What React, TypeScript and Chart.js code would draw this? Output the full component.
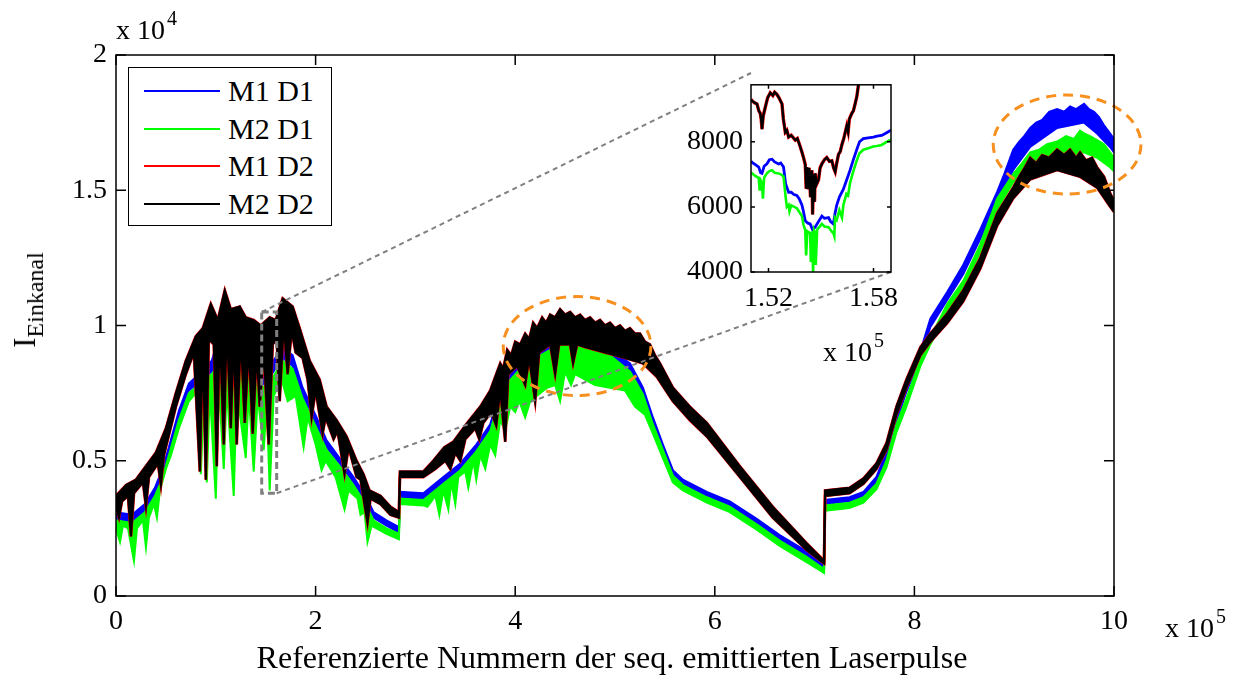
import React, { useEffect, useRef } from 'react';
import { Chart, registerables } from 'chart.js';

Chart.register(...registerables);

const FONT = "'Liberation Serif', 'Times New Roman', Times, serif";

type P = [number, number];

// x in units of 1e5 pulses, y in units of 1e4
const xTicks = [0, 2, 4, 6, 8, 10];
const yTicks = [0, 0.5, 1, 1.5, 2];

const seriesNames = ['M1 D1', 'M2 D1', 'M1 D2', 'M2 D2'];
const seriesColors = ['#0000FF', '#00FF00', '#FF0000', '#000000'];

// M2 D2 (black) upper and lower envelope of the noisy trace
const m2d2Hi: P[] = [
  [0, 0.37], [0.1, 0.41], [0.2, 0.43], [0.3, 0.48], [0.4, 0.53], [0.5, 0.62], [0.6, 0.75], [0.7, 0.87],
  [0.8, 0.96], [0.87, 0.99], [0.95, 1.08], [1.02, 1.02], [1.09, 1.13], [1.15, 1.06], [1.24, 1.07], [1.3, 1.03],
  [1.38, 1.02], [1.45, 1.0], [1.54, 1.03], [1.6, 1.02], [1.67, 1.1], [1.77, 1.07], [1.84, 0.99], [1.94, 0.87],
  [2.04, 0.8], [2.11, 0.7], [2.21, 0.65], [2.31, 0.59], [2.41, 0.5], [2.48, 0.45], [2.54, 0.39], [2.65, 0.37],
  [2.75, 0.33], [2.835, 0.31], [2.845, 0.46], [3.08, 0.46], [3.18, 0.5], [3.29, 0.55], [3.38, 0.57], [3.52, 0.64],
  [3.65, 0.7], [3.75, 0.76], [3.85, 0.86], [3.88, 0.84], [3.92, 0.91], [3.96, 0.89], [4.0, 0.94], [4.05, 0.93],
  [4.1, 0.97], [4.14, 0.95], [4.18, 1.01], [4.22, 0.99], [4.27, 1.03], [4.31, 1.01], [4.35, 1.04], [4.4, 1.03],
  [4.45, 1.06], [4.5, 1.04], [4.55, 1.05], [4.6, 1.03], [4.65, 1.04], [4.7, 1.02], [4.75, 1.03], [4.8, 1.01],
  [4.85, 1.02], [4.9, 1.0], [4.95, 1.01], [5.0, 0.99], [5.05, 1.0], [5.1, 0.98], [5.15, 0.99], [5.2, 0.97],
  [5.25, 0.97], [5.3, 0.94], [5.35, 0.93], [5.4, 0.89], [5.45, 0.86], [5.58, 0.77], [5.75, 0.7], [5.92, 0.64],
  [6.25, 0.48], [6.58, 0.33], [6.92, 0.195], [7.095, 0.13], [7.105, 0.39], [7.35, 0.4], [7.49, 0.435], [7.62, 0.49],
  [7.72, 0.565], [7.82, 0.7], [7.92, 0.8], [8.06, 0.92], [8.16, 0.97], [8.33, 1.045], [8.49, 1.13], [8.66, 1.25],
  [8.83, 1.415], [8.99, 1.51], [9.05, 1.55], [9.1, 1.58], [9.16, 1.62], [9.22, 1.6], [9.28, 1.63], [9.35, 1.62],
  [9.43, 1.65], [9.5, 1.63], [9.56, 1.65], [9.62, 1.62], [9.66, 1.64], [9.72, 1.61], [9.78, 1.62], [9.83, 1.585],
  [9.9, 1.55], [9.96, 1.49], [10, 1.46],
];
const m2d2Lo: P[] = [
  [0, 0.33], [0.03, 0.29], [0.06, 0.35], [0.12, 0.37], [0.15, 0.22], [0.18, 0.38], [0.27, 0.42], [0.3, 0.33],
  [0.33, 0.44], [0.42, 0.49], [0.45, 0.41], [0.48, 0.52], [0.6, 0.7], [0.7, 0.82], [0.78, 0.9], [0.84, 0.46],
  [0.87, 0.92], [0.9, 0.43], [0.93, 0.95], [0.98, 0.93], [1.01, 0.48], [1.04, 0.98], [1.08, 0.56], [1.11, 1.0],
  [1.15, 0.62], [1.18, 0.95], [1.21, 0.56], [1.25, 0.96], [1.29, 0.64], [1.33, 0.92], [1.37, 0.6], [1.41, 0.9],
  [1.44, 0.7], [1.48, 0.9], [1.53, 0.56], [1.57, 0.93], [1.61, 0.95], [1.64, 0.72], [1.68, 1.0], [1.72, 0.82],
  [1.76, 0.98], [1.8, 0.9], [1.87, 0.88], [1.92, 0.8], [1.96, 0.66], [2.0, 0.76], [2.07, 0.6], [2.1, 0.66],
  [2.18, 0.58], [2.22, 0.61], [2.29, 0.45], [2.33, 0.55], [2.41, 0.44], [2.45, 0.43], [2.52, 0.27], [2.55, 0.36],
  [2.65, 0.34], [2.75, 0.3], [2.835, 0.29], [2.845, 0.44], [3.08, 0.44], [3.2, 0.47], [3.3, 0.5], [3.35, 0.47],
  [3.4, 0.53], [3.45, 0.5], [3.5, 0.58], [3.6, 0.62], [3.64, 0.58], [3.68, 0.64], [3.76, 0.68], [3.81, 0.63],
  [3.85, 0.76], [3.9, 0.57], [3.93, 0.82], [4.02, 0.85], [4.1, 0.78], [4.14, 0.88], [4.2, 0.72], [4.24, 0.9],
  [4.35, 0.93], [4.4, 0.82], [4.44, 0.93], [4.55, 0.93], [4.58, 0.86], [4.62, 0.93], [4.7, 0.92], [4.9, 0.9],
  [5.1, 0.88], [5.28, 0.86], [5.42, 0.81], [5.58, 0.72], [5.75, 0.65], [5.92, 0.59], [6.25, 0.44], [6.58, 0.29],
  [6.92, 0.17], [7.095, 0.12], [7.105, 0.37], [7.35, 0.38], [7.49, 0.415], [7.62, 0.47], [7.72, 0.54], [7.82, 0.67],
  [7.92, 0.77], [8.06, 0.89], [8.16, 0.94], [8.33, 1.01], [8.49, 1.09], [8.66, 1.21], [8.83, 1.37], [8.99, 1.47],
  [9.16, 1.54], [9.43, 1.575], [9.66, 1.55], [9.83, 1.51], [9.96, 1.44], [10, 1.42],
];

// M1 D2 (red) lies almost exactly under M2 D2
const m1d2Hi: P[] = m2d2Hi;
const m1d2Lo: P[] = m2d2Lo;

// M1 D1 (blue)
const m1d1Hi: P[] = [
  [0, 0.31], [0.16, 0.3], [0.29, 0.34], [0.39, 0.4], [0.46, 0.465], [0.53, 0.55], [0.63, 0.685], [0.73, 0.785],
  [0.83, 0.82], [0.96, 0.87], [1.03, 0.96], [1.1, 0.93], [1.23, 0.9], [1.35, 0.87], [1.49, 0.82], [1.56, 0.86],
  [1.67, 0.92], [1.77, 0.89], [1.87, 0.77], [2.01, 0.66], [2.11, 0.575], [2.24, 0.51], [2.38, 0.44], [2.51, 0.365],
  [2.58, 0.31], [2.71, 0.28], [2.835, 0.255], [2.845, 0.385], [3.08, 0.38], [3.28, 0.44], [3.45, 0.49], [3.61, 0.56],
  [3.75, 0.635], [3.88, 0.8], [4.05, 0.87], [4.21, 0.91], [4.42, 0.955], [4.55, 0.97], [4.75, 0.94], [4.95, 0.915],
  [5.15, 0.86], [5.28, 0.77], [5.38, 0.66], [5.48, 0.56], [5.58, 0.465], [5.68, 0.43], [5.92, 0.385], [6.15, 0.35],
  [6.42, 0.285], [6.65, 0.225], [6.92, 0.165], [7.095, 0.12], [7.105, 0.355], [7.35, 0.365], [7.49, 0.385], [7.62, 0.44],
  [7.72, 0.535], [7.82, 0.665], [7.92, 0.775], [8.06, 0.905], [8.16, 1.025], [8.33, 1.125], [8.49, 1.225], [8.66, 1.355],
  [8.83, 1.495], [8.9, 1.56], [8.95, 1.61], [8.99, 1.65], [9.05, 1.68], [9.1, 1.7], [9.16, 1.73], [9.22, 1.75],
  [9.28, 1.76], [9.35, 1.79], [9.43, 1.8], [9.5, 1.79], [9.56, 1.81], [9.62, 1.8], [9.7, 1.82], [9.75, 1.8],
  [9.8, 1.79], [9.85, 1.77], [9.9, 1.74], [9.96, 1.71], [10, 1.69],
];
const m1d1Lo: P[] = [
  [0, 0.28], [0.16, 0.27], [0.29, 0.31], [0.39, 0.37], [0.46, 0.44], [0.53, 0.525], [0.63, 0.66], [0.73, 0.76],
  [0.83, 0.79], [0.96, 0.83], [1.03, 0.9], [1.1, 0.87], [1.23, 0.85], [1.35, 0.83], [1.49, 0.78], [1.56, 0.82],
  [1.67, 0.88], [1.77, 0.85], [1.87, 0.74], [2.01, 0.63], [2.11, 0.55], [2.24, 0.49], [2.38, 0.42], [2.51, 0.345],
  [2.58, 0.29], [2.71, 0.26], [2.835, 0.235], [2.845, 0.365], [3.08, 0.36], [3.28, 0.42], [3.45, 0.47], [3.61, 0.54],
  [3.75, 0.61], [3.88, 0.77], [4.05, 0.84], [4.21, 0.88], [4.42, 0.92], [4.55, 0.935], [4.75, 0.91], [4.95, 0.89],
  [5.15, 0.835], [5.28, 0.75], [5.38, 0.64], [5.48, 0.545], [5.58, 0.45], [5.68, 0.415], [5.92, 0.37], [6.15, 0.335],
  [6.42, 0.27], [6.65, 0.21], [6.92, 0.15], [7.095, 0.105], [7.105, 0.34], [7.35, 0.35], [7.49, 0.37], [7.62, 0.42],
  [7.72, 0.515], [7.82, 0.645], [7.92, 0.755], [8.06, 0.88], [8.16, 0.995], [8.33, 1.095], [8.49, 1.19], [8.66, 1.32],
  [8.83, 1.46], [8.99, 1.575], [9.16, 1.66], [9.43, 1.73], [9.7, 1.75], [9.83, 1.71], [9.96, 1.66], [10, 1.64],
];

// M2 D1 (green)
const m2d1Hi: P[] = [
  [0, 0.28], [0.16, 0.27], [0.29, 0.31], [0.39, 0.37], [0.46, 0.43], [0.53, 0.52], [0.63, 0.65], [0.73, 0.75],
  [0.83, 0.78], [0.96, 0.82], [1.03, 0.86], [1.1, 0.84], [1.23, 0.83], [1.35, 0.8], [1.49, 0.77], [1.56, 0.8],
  [1.67, 0.87], [1.77, 0.84], [1.87, 0.73], [2.01, 0.62], [2.11, 0.54], [2.24, 0.48], [2.38, 0.41], [2.51, 0.335],
  [2.58, 0.28], [2.71, 0.25], [2.835, 0.23], [2.845, 0.36], [3.08, 0.355], [3.28, 0.415], [3.45, 0.465], [3.61, 0.535],
  [3.75, 0.61], [3.88, 0.77], [4.05, 0.84], [4.21, 0.88], [4.42, 0.925], [4.55, 0.955], [4.75, 0.92], [4.95, 0.89],
  [5.15, 0.83], [5.28, 0.745], [5.38, 0.635], [5.48, 0.54], [5.58, 0.445], [5.68, 0.41], [5.92, 0.365], [6.15, 0.33],
  [6.42, 0.265], [6.65, 0.205], [6.92, 0.145], [7.095, 0.1], [7.105, 0.335], [7.35, 0.345], [7.49, 0.365], [7.62, 0.415],
  [7.72, 0.5], [7.82, 0.635], [7.92, 0.73], [8.06, 0.875], [8.16, 0.955], [8.33, 1.08], [8.49, 1.165], [8.66, 1.3],
  [8.83, 1.47], [8.99, 1.56], [9.08, 1.6], [9.16, 1.64], [9.25, 1.65], [9.33, 1.67], [9.43, 1.68], [9.52, 1.7],
  [9.6, 1.69], [9.66, 1.72], [9.7, 1.71], [9.76, 1.7], [9.83, 1.685], [9.9, 1.67], [9.96, 1.64], [10, 1.62],
];
const m2d1Lo: P[] = [
  [0, 0.25], [0.04, 0.2], [0.07, 0.26], [0.12, 0.25], [0.18, 0.13], [0.21, 0.25], [0.27, 0.28], [0.3, 0.18],
  [0.33, 0.29], [0.38, 0.34], [0.41, 0.29], [0.44, 0.39], [0.5, 0.47], [0.55, 0.52], [0.63, 0.62], [0.73, 0.72],
  [0.8, 0.75], [0.85, 0.45], [0.88, 0.74], [0.91, 0.42], [0.94, 0.76], [1.0, 0.36], [1.03, 0.78], [1.08, 0.47],
  [1.11, 0.77], [1.18, 0.37], [1.21, 0.76], [1.3, 0.51], [1.33, 0.75], [1.38, 0.46], [1.42, 0.74], [1.48, 0.54],
  [1.51, 0.72], [1.54, 0.39], [1.58, 0.74], [1.66, 0.8], [1.72, 0.72], [1.8, 0.74], [1.88, 0.55], [1.92, 0.66],
  [2.0, 0.56], [2.06, 0.465], [2.1, 0.5], [2.2, 0.44], [2.29, 0.32], [2.33, 0.39], [2.42, 0.36], [2.45, 0.3],
  [2.49, 0.31], [2.52, 0.2], [2.56, 0.26], [2.71, 0.23], [2.835, 0.21], [2.845, 0.34], [3.08, 0.335], [3.12, 0.33],
  [3.2, 0.37], [3.24, 0.3], [3.28, 0.39], [3.33, 0.32], [3.36, 0.42], [3.4, 0.34], [3.43, 0.44], [3.5, 0.46],
  [3.53, 0.4], [3.58, 0.5], [3.61, 0.43], [3.65, 0.52], [3.7, 0.47], [3.75, 0.56], [3.8, 0.52], [3.85, 0.65],
  [3.9, 0.61], [3.95, 0.7], [4.0, 0.68], [4.04, 0.72], [4.1, 0.66], [4.15, 0.72], [4.25, 0.75], [4.32, 0.77],
  [4.4, 0.78], [4.45, 0.72], [4.5, 0.83], [4.56, 0.78], [4.6, 0.82], [4.7, 0.8], [4.8, 0.78], [4.95, 0.77],
  [5.1, 0.76], [5.2, 0.7], [5.3, 0.67], [5.38, 0.6], [5.48, 0.51], [5.58, 0.42], [5.68, 0.39], [5.92, 0.345],
  [6.15, 0.31], [6.42, 0.245], [6.65, 0.185], [6.92, 0.125], [7.095, 0.085], [7.105, 0.315], [7.35, 0.325], [7.49, 0.345],
  [7.62, 0.395], [7.72, 0.475], [7.82, 0.605], [7.92, 0.7], [8.06, 0.85], [8.16, 0.93], [8.33, 1.05], [8.49, 1.14],
  [8.66, 1.27], [8.83, 1.43], [8.99, 1.53], [9.16, 1.585], [9.43, 1.62], [9.7, 1.64], [9.83, 1.62], [9.96, 1.585], [10, 1.57],
];

// zoom box (main axes units) and highlighted ellipses (center x, center y, radius x, radius y)
const zoomBoxX = [1.46, 1.61];
const zoomBoxY = [0.38, 1.05];
const ellipses = [
  [4.62, 0.924, 0.74, 0.183],
  [9.53, 1.669, 0.74, 0.183],
];

// inset data: x in 1e5, y raw
const insetXTicks = [1.52, 1.58];
const insetYTicks = [4000, 6000, 8000];
const insetM2D2: P[] = [
  [1.51, 9300], [1.5106, 9262], [1.512, 9200], [1.5134, 9165], [1.5145, 8950], [1.5153, 8874], [1.5158, 8700], [1.5163, 8389],
  [1.517, 8800], [1.5182, 9068], [1.5195, 9350], [1.521, 9505], [1.5225, 9420], [1.5235, 9520], [1.5248, 9456], [1.526, 9350],
  [1.5277, 9165], [1.5285, 8700], [1.5296, 8291], [1.5305, 8350], [1.5315, 8146], [1.533, 8200], [1.5353, 8049], [1.5365, 8100],
  [1.5381, 7854], [1.539, 7700], [1.54, 7515], [1.541, 7300], [1.5415, 6600], [1.5419, 7223], [1.5425, 6544], [1.5432, 7200],
  [1.544, 6300], [1.5448, 7126], [1.5452, 5767], [1.5458, 7000], [1.5463, 6155], [1.5467, 7029], [1.5475, 6700], [1.5486, 6835],
  [1.5495, 7200], [1.5505, 7320], [1.552, 7450], [1.5533, 7515], [1.5548, 7400], [1.5562, 7418], [1.5572, 7200], [1.5581, 7078],
  [1.559, 7350], [1.56, 7612], [1.561, 7700], [1.5619, 7903], [1.563, 8100], [1.5647, 8486], [1.5655, 8300], [1.5662, 8700],
  [1.5676, 8874], [1.5685, 8950], [1.5695, 9165], [1.5705, 9400], [1.5714, 9748], [1.5725, 10000],
];
const insetM1D2: P[] = insetM2D2;
const insetM1D1: P[] = [
  [1.51, 7400], [1.5106, 7369], [1.5125, 7300], [1.5144, 7223], [1.5155, 7050], [1.5163, 7029], [1.5175, 7250], [1.5191, 7320],
  [1.5205, 7450], [1.522, 7466], [1.5235, 7380], [1.5258, 7320], [1.527, 7350], [1.5286, 7223], [1.5298, 6700], [1.5315, 6447],
  [1.533, 6450], [1.5345, 6380], [1.5362, 6350], [1.5375, 6250], [1.5391, 6058], [1.54, 5850], [1.541, 5573], [1.5425, 5500],
  [1.5438, 5476], [1.5452, 5300], [1.5467, 5379], [1.548, 5500], [1.5505, 5718], [1.552, 5650], [1.5543, 5670], [1.5555, 5550],
  [1.5571, 5476], [1.558, 5800], [1.559, 6058], [1.5605, 6300], [1.5628, 6544], [1.5645, 6800], [1.5666, 7126], [1.5685, 7450],
  [1.5704, 7757], [1.572, 8000], [1.5742, 8097], [1.577, 8120], [1.5799, 8146], [1.582, 8170], [1.5847, 8194], [1.587, 8260],
  [1.5894, 8340], [1.59, 8350],
];
const insetM2D1: P[] = [
  [1.51, 7050], [1.5106, 7029], [1.5125, 6950], [1.5144, 6884], [1.515, 6500], [1.5155, 6820], [1.5163, 6738], [1.5168, 6252],
  [1.5175, 6900], [1.5191, 7029], [1.5205, 7100], [1.522, 7126], [1.5235, 7050], [1.5258, 7029], [1.527, 7000], [1.5286, 6932],
  [1.5298, 6300], [1.5305, 6000], [1.5315, 6058], [1.532, 5864], [1.533, 6050], [1.5362, 5961], [1.5375, 5850], [1.5391, 5718],
  [1.54, 5450], [1.541, 5282], [1.5415, 4505], [1.5422, 5250], [1.5438, 5185], [1.5442, 4311], [1.5448, 5250], [1.5455, 4000],
  [1.546, 5282], [1.5467, 5185], [1.547, 4214], [1.5478, 5300], [1.5505, 5476], [1.552, 5400], [1.5543, 5379], [1.556, 5250],
  [1.5571, 5185], [1.5576, 5100], [1.558, 5670], [1.559, 5600], [1.5605, 5900], [1.562, 5670], [1.5628, 6058], [1.5645, 6400],
  [1.5655, 6350], [1.5666, 6738], [1.5685, 7100], [1.5704, 7418], [1.572, 7650], [1.5742, 7757], [1.577, 7800], [1.5799, 7854],
  [1.582, 7870], [1.5847, 7903], [1.587, 7980], [1.5894, 8049], [1.59, 8060],
];

// ---------- layout (page pixels) ----------
const W = 1245;
const H = 675;
const AREA = { left: 116, top: 55, right: 1114, bottom: 596 };
const INSET_CANVAS = { left: 660, top: 60, width: 260, height: 260 };
const INSET = { left: 751, top: 73, right: 891, bottom: 272 };

const toXY = (a: P[]) => a.map(([x, y]) => ({ x, y }));

const bandSets = (label: string, hi: P[], lo: P[], color: string, width: number, order: number) => [
  {
    label, data: toXY(hi), borderColor: color, backgroundColor: color, borderWidth: width,
    pointRadius: 0, fill: false, order, tension: 0,
  },
  {
    label: label + ' lo', data: toXY(lo), borderColor: color, backgroundColor: color, borderWidth: width,
    pointRadius: 0, fill: '-1', order, tension: 0,
  },
];

const mainDecor = {
  id: 'mainDecor',
  afterDatasetsDraw(chart: any) {
    const { ctx, scales } = chart;
    const { x, y } = scales;
    ctx.save();
    // orange ellipses
    ctx.strokeStyle = '#F7901E';
    ctx.lineWidth = 3;
    ctx.setLineDash([10, 7]);
    ellipses.forEach(([cx, cy, rx, ry]) => {
      const px = x.getPixelForValue(cx);
      const py = y.getPixelForValue(cy);
      const prx = x.getPixelForValue(cx + rx) - px;
      const pry = py - y.getPixelForValue(cy + ry);
      ctx.beginPath();
      ctx.ellipse(px, py, prx, pry, 0, 0, Math.PI * 2);
      ctx.stroke();
    });
    // zoom box
    const bx0 = x.getPixelForValue(zoomBoxX[0]);
    const bx1 = x.getPixelForValue(zoomBoxX[1]);
    const by0 = y.getPixelForValue(zoomBoxY[1]);
    const by1 = y.getPixelForValue(zoomBoxY[0]);
    ctx.strokeStyle = '#808080';
    ctx.lineWidth = 3;
    ctx.setLineDash([7, 4]);
    ctx.strokeRect(bx0, by0, bx1 - bx0, by1 - by0);
    // connectors
    ctx.lineWidth = 2;
    ctx.setLineDash([5, 4]);
    ctx.beginPath();
    ctx.moveTo(bx0, by0);
    ctx.lineTo(INSET.left, INSET.top);
    ctx.moveTo(bx1, by1);
    ctx.lineTo(INSET.right, INSET.bottom);
    ctx.stroke();
    ctx.restore();
  },
  afterDraw(chart: any) {
    const { ctx, chartArea, scales } = chart;
    const { left, top, right, bottom } = chartArea;
    ctx.save();
    ctx.strokeStyle = '#000';
    ctx.lineWidth = 1.5;
    ctx.setLineDash([]);
    ctx.strokeRect(left, top, right - left, bottom - top);
    ctx.beginPath();
    xTicks.forEach((v) => {
      const px = scales.x.getPixelForValue(v);
      ctx.moveTo(px, bottom); ctx.lineTo(px, bottom - 10);
      ctx.moveTo(px, top); ctx.lineTo(px, top + 10);
    });
    yTicks.forEach((v) => {
      const py = scales.y.getPixelForValue(v);
      ctx.moveTo(left, py); ctx.lineTo(left + 10, py);
      ctx.moveTo(right, py); ctx.lineTo(right - 10, py);
    });
    ctx.stroke();
    ctx.restore();
  },
};

const insetDecor = {
  id: 'insetDecor',
  beforeDatasetsDraw(chart: any) {
    const { ctx, chartArea } = chart;
    ctx.save();
    ctx.fillStyle = '#fff';
    ctx.fillRect(chartArea.left, chartArea.top, chartArea.right - chartArea.left, chartArea.bottom - chartArea.top);
    ctx.restore();
  },
  afterDraw(chart: any) {
    const { ctx, chartArea, scales } = chart;
    const { left, top, right, bottom } = chartArea;
    ctx.save();
    ctx.strokeStyle = '#000';
    ctx.lineWidth = 1.5;
    ctx.strokeRect(left, top, right - left, bottom - top);
    ctx.beginPath();
    insetXTicks.forEach((v) => {
      const px = scales.x.getPixelForValue(v);
      ctx.moveTo(px, bottom); ctx.lineTo(px, bottom - 4);
      ctx.moveTo(px, top); ctx.lineTo(px, top + 4);
    });
    insetYTicks.forEach((v) => {
      const py = scales.y.getPixelForValue(v);
      ctx.moveTo(left, py); ctx.lineTo(left + 4, py);
      ctx.moveTo(right, py); ctx.lineTo(right - 4, py);
    });
    ctx.stroke();
    ctx.restore();
  },
};

const tickFont = { family: FONT, size: 28 };

const Pow = ({ left, top, exp }: { left: number; top: number; exp: string }) => (
  <div style={{ position: 'absolute', left, top, font: `28px ${FONT}`, lineHeight: '28px', whiteSpace: 'nowrap', color: '#000' }}>
    x 10<span style={{ fontSize: 20, position: 'relative', top: -14, marginLeft: 2 }}>{exp}</span>
  </div>
);

export default function App() {
  const mainRef = useRef<HTMLCanvasElement>(null);
  const insetRef = useRef<HTMLCanvasElement>(null);

  useEffect(() => {
    const main = new Chart(mainRef.current as HTMLCanvasElement, {
      type: 'line',
      data: {
        datasets: [
          ...bandSets(seriesNames[3], m2d2Hi, m2d2Lo, seriesColors[3], 2, 1),
          ...bandSets(seriesNames[2], m1d2Hi, m1d2Lo, seriesColors[2], 2.8, 2),
          ...bandSets(seriesNames[1], m2d1Hi, m2d1Lo, seriesColors[1], 2, 3),
          ...bandSets(seriesNames[0], m1d1Hi, m1d1Lo, seriesColors[0], 2, 4),
        ] as any,
      },
      options: {
        animation: false,
        responsive: false,
        events: [],
        layout: { padding: { top: AREA.top, right: W - AREA.right, left: 0, bottom: 0 } },
        plugins: { legend: { display: false }, tooltip: { enabled: false }, title: { display: false } },
        scales: {
          x: {
            type: 'linear', min: 0, max: 10,
            afterBuildTicks: (s: any) => { s.ticks = xTicks.map((v) => ({ value: v })); },
            ticks: { font: tickFont, color: '#000', padding: 9, maxRotation: 0, autoSkip: false, callback: (v: any) => String(v) },
            grid: { display: false, drawTicks: false },
            border: { display: false },
            afterFit: (s: any) => { s.height = H - AREA.bottom; },
          },
          y: {
            type: 'linear', min: 0, max: 2,
            afterBuildTicks: (s: any) => { s.ticks = yTicks.map((v) => ({ value: v })); },
            ticks: { font: tickFont, color: '#000', padding: 9, autoSkip: false, callback: (v: any) => String(v) },
            grid: { display: false, drawTicks: false },
            border: { display: false },
            afterFit: (s: any) => { s.width = AREA.left; },
          },
        },
      } as any,
      plugins: [mainDecor],
    });

    const inset = new Chart(insetRef.current as HTMLCanvasElement, {
      type: 'line',
      data: {
        datasets: [
          { label: seriesNames[3], data: toXY(insetM2D2), borderColor: seriesColors[3], borderWidth: 2.4, pointRadius: 0, order: 1, tension: 0 },
          { label: seriesNames[2], data: toXY(insetM1D2), borderColor: seriesColors[2], borderWidth: 3.4, pointRadius: 0, order: 2, tension: 0 },
          { label: seriesNames[1], data: toXY(insetM2D1), borderColor: seriesColors[1], borderWidth: 2.6, pointRadius: 0, order: 3, tension: 0 },
          { label: seriesNames[0], data: toXY(insetM1D1), borderColor: seriesColors[0], borderWidth: 2.8, pointRadius: 0, order: 4, tension: 0 },
        ] as any,
      },
      options: {
        animation: false,
        responsive: false,
        events: [],
        layout: {
          padding: {
            top: INSET.top - INSET_CANVAS.top,
            right: INSET_CANVAS.left + INSET_CANVAS.width - INSET.right,
            left: 0, bottom: 0,
          },
        },
        plugins: { legend: { display: false }, tooltip: { enabled: false } },
        scales: {
          x: {
            type: 'linear', min: 1.51, max: 1.59,
            afterBuildTicks: (s: any) => { s.ticks = insetXTicks.map((v) => ({ value: v })); },
            ticks: { font: tickFont, color: '#000', padding: 10, maxRotation: 0, autoSkip: false, callback: (v: any) => Number(v).toFixed(2) },
            grid: { display: false, drawTicks: false },
            border: { display: false },
            afterFit: (s: any) => { s.height = INSET_CANVAS.top + INSET_CANVAS.height - INSET.bottom; },
          },
          y: {
            type: 'linear', min: 4000, max: 9750,
            afterBuildTicks: (s: any) => { s.ticks = insetYTicks.map((v) => ({ value: v })); },
            ticks: { font: tickFont, color: '#000', padding: 8, autoSkip: false, callback: (v: any) => String(v) },
            grid: { display: false, drawTicks: false },
            border: { display: false },
            afterFit: (s: any) => { s.width = INSET.left - INSET_CANVAS.left; },
          },
        },
      } as any,
      plugins: [insetDecor],
    });

    return () => {
      main.destroy();
      inset.destroy();
    };
  }, []);

  const legendRows = [0, 1, 2, 3];

  return (
    <div style={{ position: 'fixed', left: 0, top: 0, width: W, height: H, background: '#fff', overflow: 'hidden' }}>
      <canvas ref={mainRef} width={W} height={H} style={{ position: 'absolute', left: 0, top: 0, width: W, height: H }} />
      <canvas
        ref={insetRef}
        width={INSET_CANVAS.width}
        height={INSET_CANVAS.height}
        style={{ position: 'absolute', left: INSET_CANVAS.left, top: INSET_CANVAS.top, width: INSET_CANVAS.width, height: INSET_CANVAS.height }}
      />
      {/* legend */}
      <div style={{ position: 'absolute', left: 128, top: 67, width: 204, height: 159, boxSizing: 'border-box', border: '1.5px solid #000', background: '#fff' }}>
        {legendRows.map((i) => (
          <div key={i} style={{ position: 'absolute', left: 0, top: 23 + i * 37.7 - 17, height: 34, width: 200 }}>
            <div style={{ position: 'absolute', left: 15, top: 16, width: 76, height: 2, background: seriesColors[i] }} />
            <div style={{ position: 'absolute', left: 99, top: 0, font: `30px ${FONT}`, lineHeight: '34px', whiteSpace: 'nowrap', color: '#000' }}>
              {seriesNames[i]}
            </div>
          </div>
        ))}
      </div>
      <Pow left={116} top={16} exp="4" />
      <Pow left={1165} top={614} exp="5" />
      <Pow left={823} top={338} exp="5" />
      {/* x axis title */}
      <div style={{ position: 'absolute', left: 612, top: 640, transform: 'translateX(-50%)', font: `32px ${FONT}`, lineHeight: '34px', whiteSpace: 'nowrap', color: '#000' }}>
        Referenzierte Nummern der seq. emittierten Laserpulse
      </div>
      {/* y axis title */}
      <div style={{ position: 'absolute', left: 26, top: 300, transform: 'translate(-50%, -50%) rotate(-90deg)', font: `31px ${FONT}`, lineHeight: '31px', whiteSpace: 'nowrap', color: '#000' }}>
        I<span style={{ fontSize: 24, position: 'relative', top: 8 }}>Einkanal</span>
      </div>
    </div>
  );
}
